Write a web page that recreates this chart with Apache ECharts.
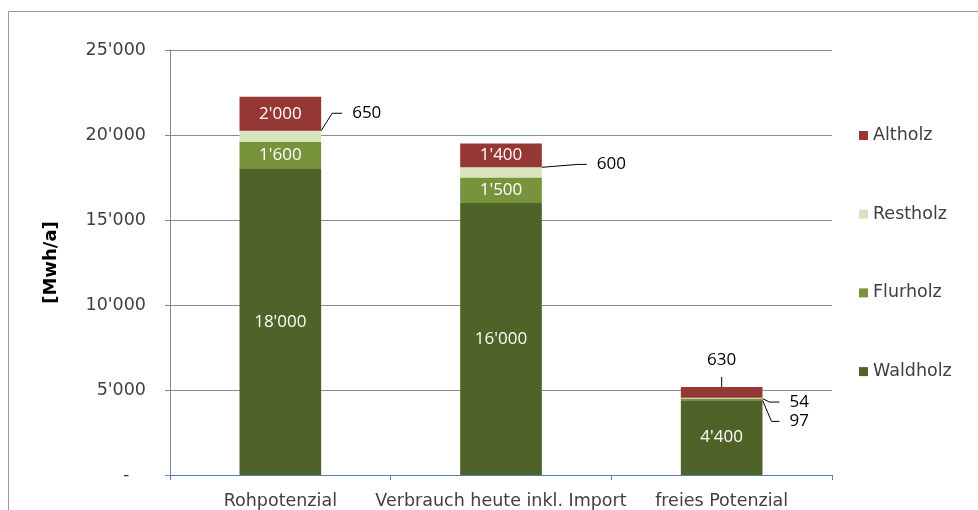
<!DOCTYPE html>
<html>
<head>
<meta charset="utf-8">
<script src="https://cdn.jsdelivr.net/npm/echarts@6/dist/echarts.min.js"></script>
<style>
  html, body { margin: 0; padding: 0; background: #fff; }
  #chart_holz { width: 978px; height: 510px; }
</style>
</head>
<body>
<div id="chart_holz"></div>
<script>
const categories = ['Rohpotenzial', 'Verbrauch heute inkl. Import', 'freies Potenzial'];
const waldholz = [18000, 16000, 4400];
const flurholz = [1600, 1500, 97];
const restholz = [650, 600, 54];
const altholz = [2000, 1400, 630];
const legendOrder = ['Altholz', 'Restholz', 'Flurholz', 'Waldholz'];

const axisFont = 'DejaVu Sans';
const labelFont = 'Open Sans';
const axisSize = 17.5;

const fmt = (v) => String(v).replace(/\B(?=(\d{3})+(?!\d))/g, "'");

const myChart = echarts.init(document.getElementById('chart_holz'));

// small segments get their label pushed out with a leader line: [dx, dy, tail]
const outside = {
  'Restholz': { 0: [16, -23, 10], 1: [40, -8, 9], 2: [12, 4, 10] },
  'Flurholz': { 2: [12, 22, 8] },
  'Altholz': { 2: [0, 0, 0] }
};

const insideLabel = {
  show: true,
  position: 'inside',
  color: '#fff',
  fontFamily: labelFont,
  fontSize: 17,
  formatter: (p) => fmt(p.value)
};

const outsideItem = (v, top, tail) => ({
  value: v,
  label: {
    show: true,
    position: top ? 'top' : 'right',
    distance: top ? 10 : 5,
    padding: top ? [0, 0, 8, 0] : [0, 0, 0, 10],
    backgroundColor: 'rgba(0,0,0,0)',
    color: '#000',
    fontFamily: labelFont,
    fontSize: 17
  },
  labelLine: { show: true, length2: tail, lineStyle: { color: '#000', width: 1 } }
});

const makeData = (name, arr) => arr.map((v, i) => {
  const o = outside[name] && outside[name][i];
  if (!o) return v;
  return outsideItem(v, name === 'Altholz', o[2]);
});

const layoutFor = (name) => (params) => {
  const o = outside[name] && outside[name][params.dataIndex];
  if (!o) return {};
  return { dx: o[0], dy: o[1] };
};

const colors = {
  'Waldholz': '#4F6228',
  'Flurholz': '#77933C',
  'Restholz': '#D7E4BD',
  'Altholz': '#953735'
};

const series = [
  ['Waldholz', waldholz],
  ['Flurholz', flurholz],
  ['Restholz', restholz],
  ['Altholz', altholz]
].map(([name, arr]) => ({
  name,
  type: 'bar',
  stack: 'total',
  barWidth: '37%',
  itemStyle: { color: colors[name] },
  label: name === 'Restholz' ? { show: false } : insideLabel,
  labelLine: { show: false, lineStyle: { color: '#000', width: 1 } },
  labelLayout: layoutFor(name),
  data: makeData(name, arr),
  emphasis: { disabled: true }
}));

const option = {
  animation: false,
  graphic: [{
    type: 'rect',
    shape: { x: 8.5, y: 11.5, width: 1000, height: 600 },
    style: { fill: 'none', stroke: '#9a9a9a', lineWidth: 1 },
    silent: true
  }],
  grid: { left: 170, right: 146, top: 50, bottom: 35 },
  legend: {
    orient: 'vertical',
    left: 854,
    top: 121.5,
    itemWidth: 9,
    itemHeight: 9,
    itemGap: 60.7,
    icon: 'rect',
    data: legendOrder,
    textStyle: { color: '#404040', fontFamily: axisFont, fontSize: axisSize }
  },
  xAxis: {
    type: 'category',
    data: categories,
    axisLine: { show: true, lineStyle: { color: '#4F81BD', width: 1 } },
    axisTick: { show: true, length: 5, lineStyle: { color: '#4F81BD' } },
    axisLabel: { interval: 0, color: '#404040', fontFamily: axisFont, fontSize: axisSize, margin: 17 }
  },
  yAxis: {
    type: 'value',
    min: 0,
    max: 25000,
    interval: 5000,
    name: '[Mwh/a]',
    nameLocation: 'middle',
    nameGap: 110,
    nameTextStyle: { color: '#000', fontFamily: axisFont, fontWeight: 'bold', fontSize: 18 },
    axisLine: { show: true, lineStyle: { color: '#868686' } },
    axisTick: { show: true, length: 5, lineStyle: { color: '#868686' } },
    splitLine: { show: true, lineStyle: { color: '#8c8c8c' } },
    axisLabel: {
      color: '#404040',
      fontFamily: axisFont,
      fontSize: axisSize,
      margin: 24,
      formatter: (v) => v === 0 ? '-   ' : fmt(v)
    }
  },
  series
};

myChart.setOption(option, true);
</script>
</body>
</html>
